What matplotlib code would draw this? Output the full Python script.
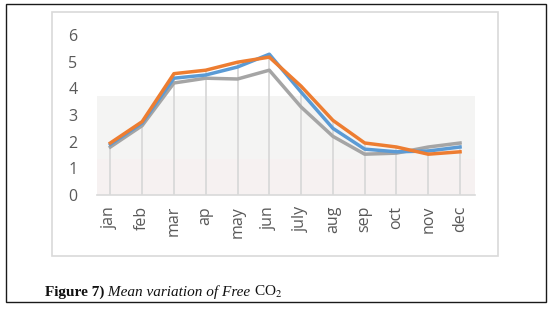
import matplotlib

matplotlib.use("Agg")
import matplotlib.pyplot as plt
from matplotlib.patches import Rectangle

plt.rcParams["mathtext.fontset"] = "stix"

months = ["jan", "feb", "mar", "ap", "may", "jun", "july", "aug", "sep", "oct", "nov", "dec"]
series_blue = [1.9, 2.7, 4.38, 4.5, 4.8, 5.28, 3.86, 2.5, 1.72, 1.62, 1.65, 1.8]
series_orange = [1.95, 2.75, 4.55, 4.68, 4.98, 5.17, 4.08, 2.8, 1.95, 1.8, 1.53, 1.62]
series_gray = [1.8, 2.6, 4.2, 4.38, 4.35, 4.68, 3.3, 2.2, 1.53, 1.57, 1.8, 1.95]
yticks = [0, 1, 2, 3, 4, 5, 6]

W, H = 552, 317
fig = plt.figure(figsize=(W / 100, H / 100), dpi=100)

# outer frame and inner chart box (pixel coords -> figure fraction)
def px_rect(x0, y0, x1, y1, **kw):
    return Rectangle((x0 / W, 1 - y1 / H), (x1 - x0) / W, (y1 - y0) / H,
                     transform=fig.transFigure, fill=False, **kw)

fig.patches.append(px_rect(6, 4, 546, 302, edgecolor="#1a1a1a", lw=1.0))
fig.patches.append(px_rect(52, 12, 498, 256, edgecolor="#d9d9d9", lw=1.2))

ax = fig.add_axes([97 / W, 1 - 195 / H, (475 - 97) / W, (195 - 35) / H])
x = list(range(len(months)))

ax.axhspan(0, 1.35, color="#f6f1f1", lw=0, zorder=0)
ax.axhspan(1.35, 3.7, color="#f4f4f3", lw=0, zorder=0)

tops = [max(a, b, c) for a, b, c in zip(series_blue, series_orange, series_gray)]
ax.vlines(x, 0, tops, color="#d9d9d9", lw=1.3, zorder=1)

ax.plot(x, series_gray, color="#a5a5a5", lw=2.5, zorder=3)
ax.plot(x, series_blue, color="#5b9bd5", lw=2.5, zorder=4)
ax.plot(x, series_orange, color="#ed7d31", lw=2.5, zorder=5)

ax.set_xlim(-0.42, 11.47)
ax.set_ylim(0, 6)
ax.set_yticks(yticks)
ax.set_xticks(x)
ax.set_xticklabels(months, rotation=90)
ax.tick_params(axis="both", length=0, colors="#595959", labelsize=11.5)
ax.tick_params(axis="x", pad=8)
ax.tick_params(axis="y", pad=14)
for lab in ax.get_yticklabels() + ax.get_xticklabels():
    lab.set_family("Open Sans")
ax.patch.set_alpha(0)
for s in ["top", "right", "left"]:
    ax.spines[s].set_visible(False)
ax.spines["bottom"].set_color("#d9d9d9")
ax.spines["bottom"].set_linewidth(1.2)

# caption: bold label, italic text, upright CO2, all on one baseline
cap_kw = dict(family="Liberation Serif", fontsize=11, color="#111111",
              va="baseline", ha="left")
base_y = 1 - 296 / H
parts = [("Figure 7)", dict(weight="bold")),
         (" Mean variation of Free ", dict(style="italic")),
         (r"CO$_2$", dict())]
fig.canvas.draw()
renderer = fig.canvas.get_renderer()
cur_x = 45 / W
for txt, extra in parts:
    t = fig.text(cur_x, base_y, txt, **cap_kw, **extra)
    bb = t.get_window_extent(renderer)
    cur_x = bb.x1 / W

fig.savefig("out.png", dpi=100)
